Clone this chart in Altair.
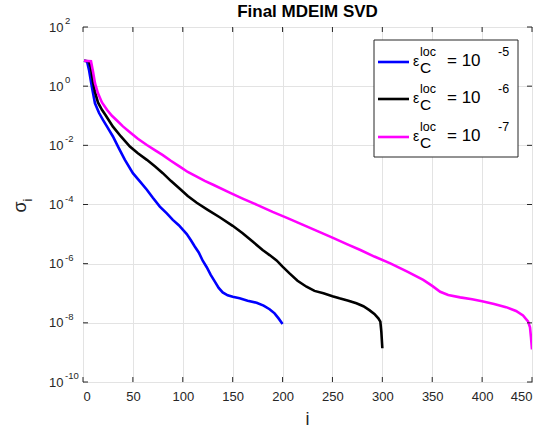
import altair as alt
import pandas as pd

# ---- data (index i, log10 of sigma_i) ----
blue_i = [1, 4, 6, 9, 12, 16, 20, 25, 30, 36, 42, 50, 57, 64, 70, 77, 84, 90, 96, 100,
          104, 108, 112, 116, 120, 124, 128, 132, 136, 140, 145, 150, 157, 165, 174, 181,
          187, 192, 196, 200]
blue_log10 = [0.86, 0.84, 0.55, -0.05, -0.58, -0.9, -1.14, -1.42, -1.7, -2.1, -2.49, -2.94,
              -3.22, -3.5, -3.77, -4.07, -4.3, -4.52, -4.7, -4.85, -5.0, -5.2, -5.42, -5.62,
              -5.9, -6.12, -6.38, -6.6, -6.82, -6.97, -7.07, -7.12, -7.17, -7.25, -7.32,
              -7.42, -7.54, -7.68, -7.85, -8.04]

black_i = [1, 6, 8, 10, 12, 15, 19, 23, 30, 38, 47, 55, 64, 72, 80, 88, 97, 105, 114, 125,
           137, 150, 160, 170, 180, 187, 194, 200, 207, 215, 224, 232, 241, 250, 257, 266,
           274, 281, 287, 292, 296, 298, 299, 300]
black_log10 = [0.86, 0.84, 0.6, 0.15, -0.2, -0.55, -0.8, -1.0, -1.37, -1.7, -2.04, -2.27,
               -2.49, -2.71, -2.94, -3.2, -3.47, -3.71, -3.94, -4.18, -4.43, -4.72, -4.97,
               -5.25, -5.54, -5.71, -5.89, -6.1, -6.33, -6.58, -6.78, -6.92, -7.0, -7.1,
               -7.17, -7.25, -7.34, -7.44, -7.57, -7.7, -7.85, -7.96, -8.3, -8.86]

magenta_i = [1, 8, 10, 12, 15, 19, 24, 29, 34, 40, 47, 55, 64, 72, 80, 88, 97, 105, 114, 122,
             131, 147, 160, 175, 190, 205, 220, 235, 250, 265, 278, 292, 308, 325, 341, 350,
             358, 366, 378, 390, 400, 412, 424, 434, 441, 446, 448, 449, 450]
magenta_log10 = [0.86, 0.84, 0.5, 0.1, -0.24, -0.55, -0.8, -1.0, -1.16, -1.36, -1.56, -1.78,
                 -1.99, -2.16, -2.33, -2.52, -2.72, -2.9, -3.06, -3.2, -3.34, -3.6, -3.8,
                 -4.02, -4.25, -4.46, -4.68, -4.9, -5.12, -5.35, -5.54, -5.76, -5.99, -6.27,
                 -6.55, -6.75, -6.95, -7.06, -7.14, -7.2, -7.27, -7.36, -7.47, -7.6, -7.75,
                 -7.95, -8.15, -8.5, -8.9]

x_ticks = [0, 50, 100, 150, 200, 250, 300, 350, 400, 450]
y_exponents = [2, 0, -2, -4, -6, -8, -10]
legend_exponents = ["-5", "-6", "-7"]
legend_colors = ["#0000FF", "#000000", "#FF00FF"]

W, H = 449, 355
AX = "#262626"
FONT = "Liberation Sans"


def series(i_vals, l_vals):
    return pd.DataFrame({"i": i_vals, "s": [10.0 ** v for v in l_vals]})


xscale = alt.Scale(domain=[0, 450], nice=False, zero=False)
yscale = alt.Scale(type="log", domain=[1e-10, 1e2], nice=False)

xaxis = alt.Axis(values=x_ticks, title=None, grid=True, gridColor="#e3e3e3", ticks=False,
                 tickSize=0, domain=False, labelPadding=8, labelFontSize=13, labelFont=FONT,
                 labelColor=AX)
yaxis = alt.Axis(values=[10.0 ** e for e in y_exponents], title=None, grid=True,
                 gridColor="#e3e3e3", ticks=False, tickSize=0, domain=False, labelPadding=20,
                 labelFontSize=13, labelFont=FONT, labelColor=AX, labelExpr="'10'")

X = alt.X("i:Q", scale=xscale, axis=xaxis)
Y = alt.Y("s:Q", scale=yscale, axis=yaxis)


def line(df, color):
    return alt.Chart(df).mark_line(color=color, strokeWidth=2.6, clip=True).encode(x=X, y=Y)


l_blue = line(series(blue_i, blue_log10), legend_colors[0])
l_black = line(series(black_i, black_log10), legend_colors[1])
l_mag = line(series(magenta_i, magenta_log10), legend_colors[2])

# inward ticks
xt = pd.DataFrame({"i": x_ticks})
yt = pd.DataFrame({"s": [10.0 ** e for e in y_exponents]})
tick_b = alt.Chart(xt).mark_rule(color=AX, strokeWidth=1).encode(
    x=X, y=alt.value(H - 5), y2=alt.value(H))
tick_t = alt.Chart(xt).mark_rule(color=AX, strokeWidth=1).encode(
    x=X, y=alt.value(0), y2=alt.value(5))
tick_l = alt.Chart(yt).mark_rule(color=AX, strokeWidth=1).encode(
    y=Y, x=alt.value(0), x2=alt.value(5))
tick_r = alt.Chart(yt).mark_rule(color=AX, strokeWidth=1).encode(
    y=Y, x=alt.value(W - 5), x2=alt.value(W))

# y tick exponents
ye = pd.DataFrame({"s": [10.0 ** e for e in y_exponents], "t": [str(e) for e in y_exponents]})
yexp = alt.Chart(ye).mark_text(align="left", baseline="middle", dy=-6, fontSize=9.5,
                               font=FONT, color=AX).encode(
    y=Y, x=alt.value(-18), text="t:N")

# titles
title = alt.Chart(pd.DataFrame({"t": ["Final MDEIM SVD"]})).mark_text(
    fontSize=17, fontWeight="bold", font=FONT, color="#000000", baseline="middle").encode(
    x=alt.value(W / 2), y=alt.value(-15), text="t:N")
xlabel = alt.Chart(pd.DataFrame({"t": ["i"]})).mark_text(
    fontSize=18, font=FONT, color=AX, baseline="middle").encode(
    x=alt.value(W / 2), y=alt.value(H + 38), text="t:N")
ylab_sigma = alt.Chart(pd.DataFrame({"t": ["σ"]})).mark_text(
    fontSize=18, font=FONT, color=AX, baseline="middle", angle=270).encode(
    x=alt.value(-62), y=alt.value(180), text="t:N")
ylab_sub = alt.Chart(pd.DataFrame({"t": ["i"]})).mark_text(
    fontSize=13, font=FONT, color=AX, baseline="middle", angle=270).encode(
    x=alt.value(-55), y=alt.value(173), text="t:N")

# legend
LX0, LX1, LY0, LY1 = 291, 435, 13, 130
leg_rows = [35, 72, 110]
legbox = alt.Chart(pd.DataFrame({"a": [0]})).mark_rect(
    fill="white", stroke=AX, strokeWidth=1).encode(
    x=alt.value(LX0), x2=alt.value(LX1), y=alt.value(LY0), y2=alt.value(LY1))
leg_layers = [legbox]
for k, yy in enumerate(leg_rows):
    d = pd.DataFrame({"a": [0]})
    leg_layers.append(alt.Chart(d).mark_rule(color=legend_colors[k], strokeWidth=2.6).encode(
        x=alt.value(295), x2=alt.value(326), y=alt.value(yy)))
    leg_layers.append(alt.Chart(pd.DataFrame({"t": ["ε"]})).mark_text(
        fontSize=14, font=FONT, color="#000", align="left", baseline="middle").encode(
        x=alt.value(330), y=alt.value(yy), text="t:N"))
    leg_layers.append(alt.Chart(pd.DataFrame({"t": ["loc"]})).mark_text(
        fontSize=12.5, font=FONT, color="#000", align="left", baseline="middle").encode(
        x=alt.value(337), y=alt.value(yy - 10), text="t:N"))
    leg_layers.append(alt.Chart(pd.DataFrame({"t": ["C"]})).mark_text(
        fontSize=15.5, font=FONT, color="#000", align="left", baseline="middle").encode(
        x=alt.value(337), y=alt.value(yy + 6), text="t:N"))
    leg_layers.append(alt.Chart(pd.DataFrame({"t": ["= 10"]})).mark_text(
        fontSize=17, font=FONT, color="#000", align="left", baseline="middle").encode(
        x=alt.value(364), y=alt.value(yy - 1), text="t:N"))
    leg_layers.append(alt.Chart(pd.DataFrame({"t": [legend_exponents[k]]})).mark_text(
        fontSize=12.5, font=FONT, color="#000", align="left", baseline="middle").encode(
        x=alt.value(415), y=alt.value(yy - 10), text="t:N"))

chart = alt.layer(
    l_blue, l_black, l_mag, tick_b, tick_t, tick_l, tick_r, yexp, title, xlabel,
    ylab_sigma, ylab_sub, *leg_layers
).properties(
    width=W, height=H,
    autosize=alt.AutoSizeParams(type="none"),
    padding={"left": 83, "top": 27, "right": 22, "bottom": 48},
    background="white",
).configure_view(stroke=AX, strokeWidth=1)

chart.save("out.html", embed_options={"renderer": "svg", "actions": False})
